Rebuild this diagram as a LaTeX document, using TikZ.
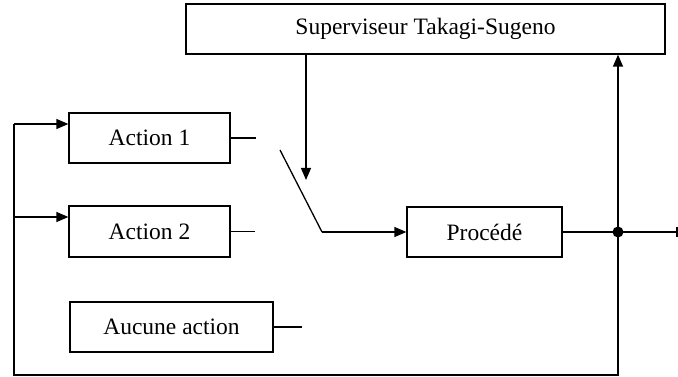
\documentclass[tikz,border=0pt]{standalone}
\usepackage{fontspec}
\setmainfont{Liberation Serif}
\usetikzlibrary{arrows.meta}
\begin{document}
\begin{tikzpicture}[x=1pt,y=-1pt,
  blk/.style={draw,line width=1.3pt,inner sep=0pt,font=\fontsize{23.5}{27}\selectfont},
  wire/.style={line width=1.3pt},
  arr/.style={wire,-{Triangle[length=12pt,width=10pt]}}]
\useasboundingbox (0,0) rectangle (678,377);
\node[blk,minimum width=479pt,minimum height=50pt] (sup) at (425.5,29) {Superviseur Takagi-Sugeno};
\node[blk,minimum width=161pt,minimum height=50pt] (a1) at (149.5,138) {Action 1};
\node[blk,minimum width=161pt,minimum height=51pt] (a2) at (149.5,231.5) {Action 2};
\node[blk,minimum width=203pt,minimum height=50pt] (a0) at (171.5,327) {Aucune action};
\node[blk,minimum width=155pt,minimum height=50pt] (proc) at (484.5,232) {Procédé};
% output stubs of the actions
\coordinate (s1) at (256,138);
\coordinate (s2) at (255,231.5);
\coordinate (s0) at (302,327);
\draw[wire] (a1.east) -- (s1);
\draw[wire] (a2.east) -- (s2);
\draw[wire] (a0.east) -- (s0);
% switch
\coordinate (swa) at (280,150);
\coordinate (swb) at (322,232);
\draw[wire] (swa) -- (swb);
\draw[arr] (swb) -- (proc.west);
% supervisor command
\coordinate (cmd) at (306,180);
\draw[arr] (sup.south -| cmd) -- (cmd);
% output and feedback
\coordinate (dot) at (618,232);
\coordinate (out) at (677,232);
\coordinate (br) at (618,375);
\coordinate (bl) at (14,375);
\coordinate (l1) at (14,124);
\coordinate (l2) at (14,217);
\draw[wire] (proc.east) -- (out);
\draw[wire] ([yshift=-5pt]out) -- ([yshift=5pt]out);
\fill (dot) circle (5.5pt);
\draw[arr] (dot) -- (dot |- sup.south);
\draw[wire] (dot) -- (br) -- (bl) -- (l1);
\draw[arr] (l1) -- (l1 -| a1.west);
\draw[arr] (l2) -- (l2 -| a2.west);
\end{tikzpicture}
\end{document}
